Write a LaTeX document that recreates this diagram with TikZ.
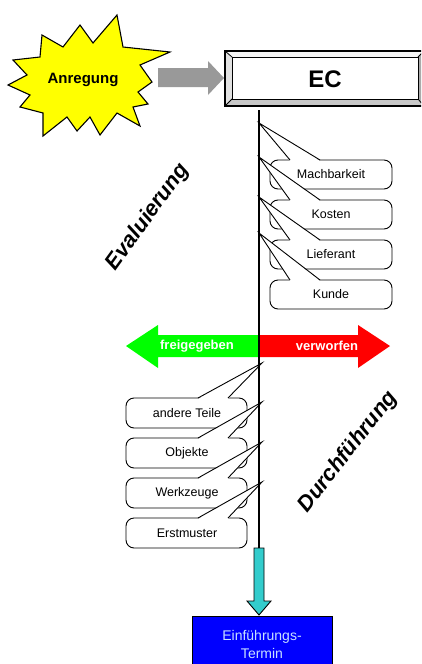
\documentclass[tikz,border=0pt]{standalone}
\usepackage{fontspec}
\setmainfont{Liberation Sans}
\definecolor{starY}{RGB}{255,255,0}
\definecolor{arrGray}{RGB}{153,153,153}
\definecolor{relGreen}{RGB}{0,255,0}
\definecolor{rejRed}{RGB}{255,0,0}
\definecolor{turq}{RGB}{51,204,204}
\definecolor{boxBlue}{RGB}{0,0,255}
\definecolor{lightTxt}{RGB}{200,225,255}
\definecolor{bevA}{RGB}{245,245,245}
\definecolor{bevB}{RGB}{225,225,225}
\definecolor{bevC}{RGB}{200,200,200}
\definecolor{bevD}{RGB}{170,170,170}
\begin{document}
\begin{tikzpicture}[x=1pt,y=-1pt,
  callbox/.style={draw=black, fill=white, line width=0.9pt, rounded corners=8pt},
  callline/.style={draw=black, line width=0.9pt, line join=miter},
  calltxt/.style={font=\fontsize{12.5}{14}\selectfont, inner sep=0pt},
  bigword/.style={font=\fontsize{22}{24}\selectfont\bfseries\itshape, inner sep=0pt},
  arrtxt/.style={font=\fontsize{13}{15}\selectfont\bfseries, text=white, inner sep=0pt}]
\useasboundingbox (0,0) rectangle (421,664);
\clip (0,0) rectangle (421,664);

% starburst
\draw[fill=starY, line width=1.1pt, line join=miter]
  (117,15) -- (123,47) -- (170,52) -- (140,65) -- (152,82) -- (138,92) -- (148,104)
  -- (133,107) -- (140,126) -- (117,113) -- (100,135) -- (90,117) -- (77,131)
  -- (67,117) -- (43,136) -- (43,113) -- (20,107) -- (30,95) -- (8,85) -- (27,75)
  -- (13,60) -- (40,57) -- (42,35) -- (63,47) -- (80,25) -- (93,43) -- cycle;
\node[font=\fontsize{15}{17}\selectfont\bfseries, inner sep=0pt] (anr) at (83,80) {Anregung};

% gray arrow
\fill[arrGray] (158,68) -- (208,68) -- (208,61) -- (224,78) -- (208,95) -- (208,87) -- (158,87) -- cycle;

% EC bevelled box
\fill[bevA] (225,51) -- (424,51) -- (418,57) -- (232,57) -- cycle;
\fill[bevB] (225,51) -- (232,57) -- (232,99) -- (225,106) -- cycle;
\fill[bevC] (225,106) -- (232,99) -- (418,99) -- (424,106) -- cycle;
\fill[bevD] (424,51) -- (418,57) -- (418,99) -- (424,106) -- cycle;
\draw[line width=1.1pt] (225,51) rectangle (424,106);
\draw[line width=1pt, fill=white] (232,57) rectangle (418,99);
\draw[line width=0.8pt] (225,51) -- (232,57) (225,106) -- (232,99) (424,51) -- (418,57) (424,106) -- (418,99);
\node[font=\fontsize{24}{26}\selectfont\bfseries, inner sep=0pt] (ec) at (325,79) {EC};

% rotated words
\node[bigword, rotate=54] (eval) at (148,217) {Evaluierung};
\node[bigword, rotate=52] (durch) at (348,452) {Durchführung};

% right callouts
\foreach \nm/\txt/\ty/\tp in {mach/Machbarkeit/160/123, kost/Kosten/200/157, lief/Lieferant/240/197, kund/Kunde/280/233}{
  \draw[callbox] (270,\ty) rectangle (392,\ty+29);
  \coordinate (tip\nm) at (259,\tp);
  \fill[white] (290,\ty+1) -- (tip\nm) -- (320,\ty+1) -- cycle;
  \draw[callline] (290,\ty) -- (tip\nm) -- (320,\ty);
  \node[calltxt] (\nm) at (331,\ty+14.5) {\txt};
}

% green / red arrows
\fill[relGreen] (126,346) -- (158,325) -- (158,335) -- (259,335) -- (259,357) -- (158,357) -- (158,368) -- cycle;
\fill[rejRed] (259,335) -- (358,335) -- (358,325) -- (390,346) -- (358,368) -- (358,357) -- (259,357) -- cycle;
\node[arrtxt] (frei) at (197,346) {freigegeben};
\node[arrtxt] (verw) at (327,346) {verworfen};

% left callouts
\foreach \nm/\txt/\ty/\tp in {ande/andere Teile/398/363, obj/Objekte/438/402, werk/Werkzeuge/478/442, erst/Erstmuster/518/482}{
  \draw[callbox] (126,\ty) rectangle (247,\ty+30);
  \coordinate (tip\nm) at (262,\tp);
  \fill[white] (198,\ty+1) -- (tip\nm) -- (228,\ty+1) -- cycle;
  \draw[callline] (198,\ty) -- (tip\nm) -- (228,\ty);
  \node[calltxt] (\nm) at (187,\ty+15) {\txt};
}

% vertical line
\coordinate (vtop) at (259,110);
\coordinate (vbot) at (259,548);
\draw[line width=1.5pt] (vtop) -- (vbot);

% cyan arrow
\draw[fill=turq, line width=0.9pt, line join=miter] (254,548) -- (264,548) -- (264,601) -- (271,601) -- (259,615) -- (247,601) -- (254,601) -- cycle;

% blue box
\draw[fill=boxBlue, line width=1pt] (192,616) rectangle (332,670);
\node[font=\fontsize{14}{18}\selectfont, text=lightTxt, align=center, inner sep=0pt] (einf) at (262,644) {Einführungs-\\Termin};
\end{tikzpicture}
\end{document}
